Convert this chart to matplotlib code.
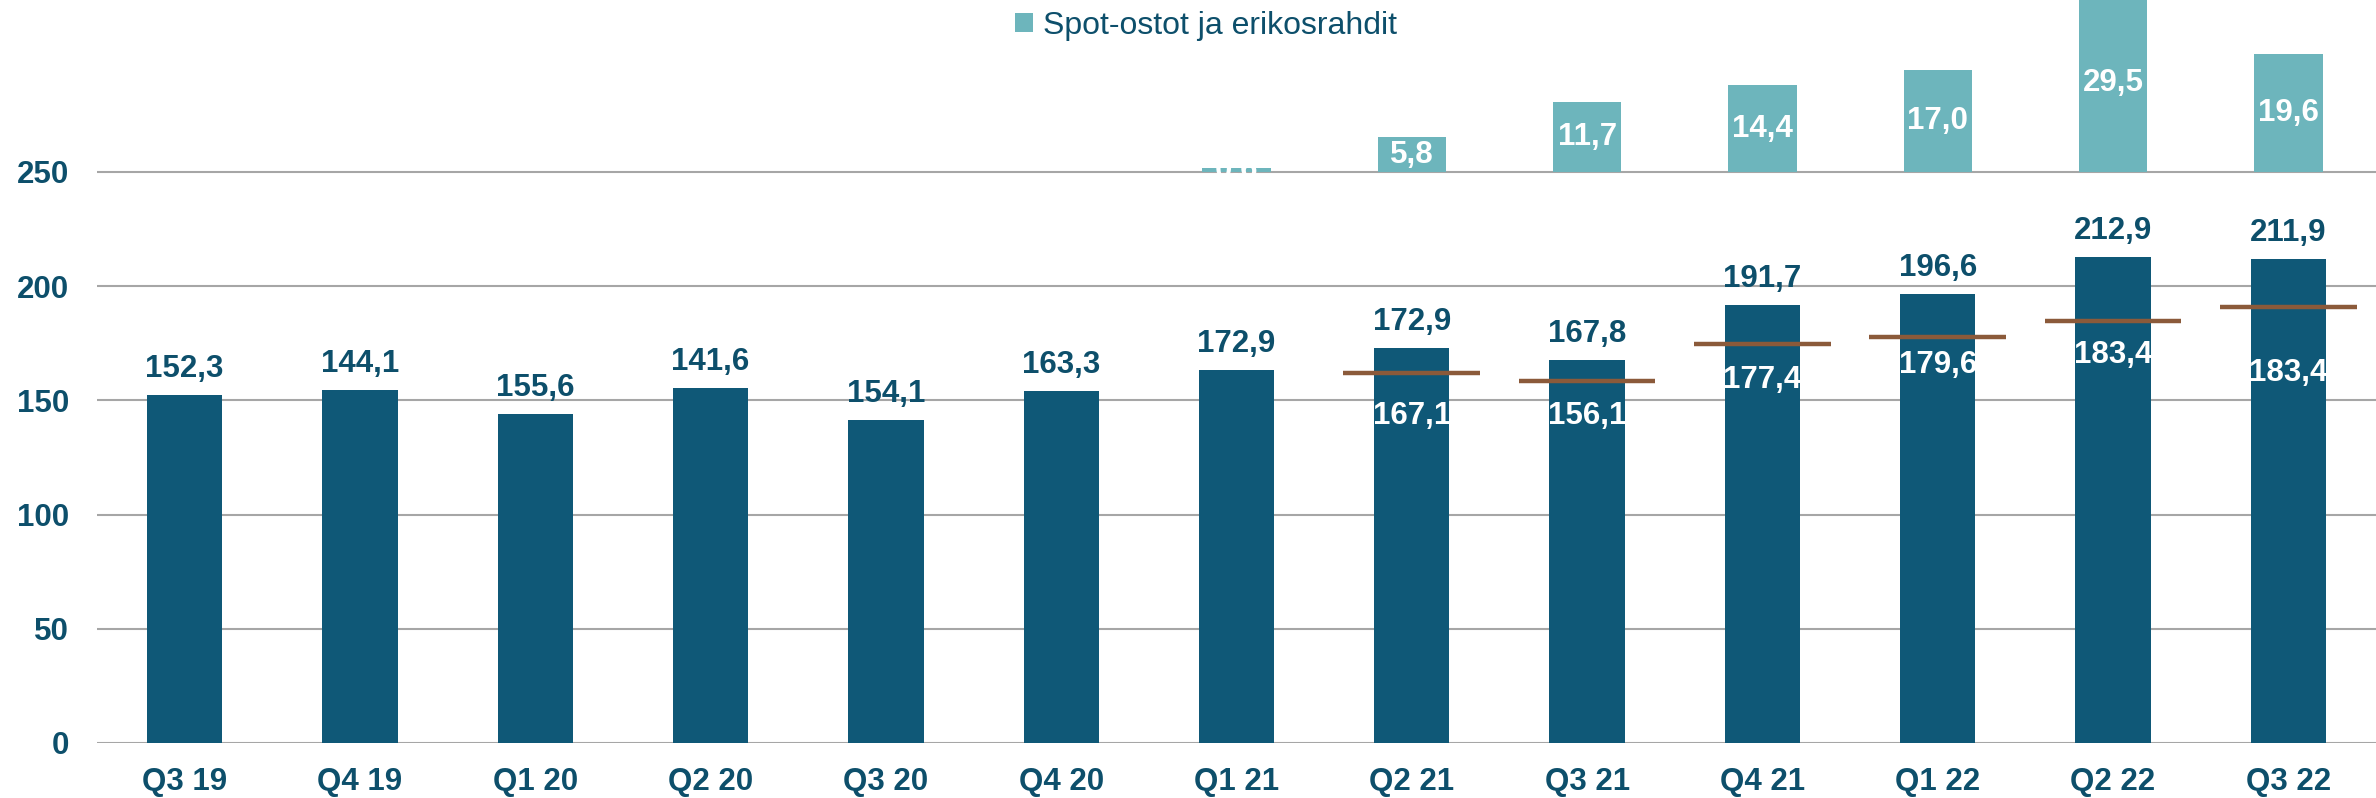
"""
Volumes trimestriels : barres principales, spot-ostot en haut, reperes bruns.
"""
import matplotlib
matplotlib.use("Agg")
import matplotlib.pyplot as plt

plt.rcParams["font.family"] = ["Liberation Sans", "DejaVu Sans"]

quarters = ["Q3 19", "Q4 19", "Q1 20", "Q2 20", "Q3 20", "Q4 20", "Q1 21",
            "Q2 21", "Q3 21", "Q4 21", "Q1 22", "Q2 22", "Q3 22"]
bar_values = [152.3, 154.6, 144.1, 155.6, 141.6, 154.1, 163.3,
              172.9, 167.8, 191.7, 196.6, 212.9, 211.9]
top_labels = ["152,3", "144,1", "155,6", "141,6", "154,1", "163,3", "172,9",
              "172,9", "167,8", "191,7", "196,6", "212,9", "211,9"]

# spot-ostot ja erikosrahdit (a partir de Q1 21)
spot_quarters = ["Q1 21", "Q2 21", "Q3 21", "Q4 21", "Q1 22", "Q2 22", "Q3 22"]
spot_values = [0.6, 5.8, 11.7, 14.4, 17.0, 29.5, 19.6]
spot_labels = ["0,6", "5,8", "11,7", "14,4", "17,0", "29,5", "19,6"]

# reperes bruns et valeurs blanches dans les barres (a partir de Q2 21)
marker_quarters = ["Q2 21", "Q3 21", "Q4 21", "Q1 22", "Q2 22", "Q3 22"]
marker_values = [161.8, 158.5, 174.9, 177.6, 184.9, 190.9]
inner_labels = ["167,1", "156,1", "177,4", "179,6", "183,4", "183,4"]
inner_label_pos = [143.3, 143.3, 158.9, 165.5, 169.9, 162.0]

DARK = "#0F5877"
LIGHT = "#6DB5BC"
BROWN = "#8B5A3A"
TEXT = "#0D4F6B"
GRID = "#A6A6A6"
FS = 22.5

# l'axe des spot-ostot demarre au niveau 250 de l'axe principal
SPOT_BASE = 250
SPOT_SCALE = 2.63
Y_TOP = 325.3

fig = plt.figure(figsize=(23.76, 7.98), dpi=100)
ax = fig.add_axes([97 / 2376, 55 / 798, 1 - 97 / 2376, 1 - 55 / 798])
x = list(range(len(quarters)))
idx = {q: i for i, q in enumerate(quarters)}

ax.bar(x, bar_values, width=0.43, color=DARK, zorder=2)
for xi, v, lab in zip(x, bar_values, top_labels):
    ax.annotate(lab, (xi, v), xytext=(0, 13), textcoords="offset points",
                ha="center", va="baseline", fontsize=FS, fontweight="bold", color=TEXT)

mx = [idx[q] for q in marker_quarters]
ax.hlines(marker_values, [m - 0.39 for m in mx], [m + 0.39 for m in mx],
          color=BROWN, linewidth=3.2, zorder=4)
for m, pos, lab in zip(mx, inner_label_pos, inner_labels):
    ax.text(m, pos, lab, ha="center", va="center", fontsize=FS,
            fontweight="bold", color="white", zorder=5)

ax.set_xlim(-0.5, len(quarters) - 0.5)
ax.set_ylim(0, Y_TOP)
ax.set_yticks([0, 50, 100, 150, 200, 250])
ax.set_xticks(x)
ax.set_xticklabels(quarters)
ax.tick_params(axis="both", length=0, labelsize=FS, labelcolor=TEXT)
ax.tick_params(axis="y", pad=20)
ax.tick_params(axis="x", pad=17)
for lab in ax.get_xticklabels() + ax.get_yticklabels():
    lab.set_fontweight("bold")
ax.grid(axis="y", color=GRID, linewidth=1.5, zorder=0)
ax.set_axisbelow(True)
for s in ax.spines.values():
    s.set_visible(False)

ax2 = ax.twinx()
ax2.set_ylim(-SPOT_BASE / SPOT_SCALE, (Y_TOP - SPOT_BASE) / SPOT_SCALE)
sx = [idx[q] for q in spot_quarters]
spot = ax2.bar(sx, spot_values, width=0.39, color=LIGHT, zorder=2,
               label="Spot-ostot ja erikosrahdit")
for xi, v, lab in zip(sx, spot_values, spot_labels):
    ax2.text(xi, v / 2, lab, ha="center", va="center", fontsize=FS,
             fontweight="bold", color="white", zorder=3)
ax2.set_yticks([])
for s in ax2.spines.values():
    s.set_visible(False)

fig.legend(handles=[spot], loc="center", bbox_to_anchor=(1206 / 2376, 1 - 26 / 798),
           frameon=False, fontsize=23, labelcolor=TEXT, handlelength=0.55,
           handleheight=0.55, handletextpad=0.3, borderpad=0)

fig.savefig("out.png", dpi=100)
